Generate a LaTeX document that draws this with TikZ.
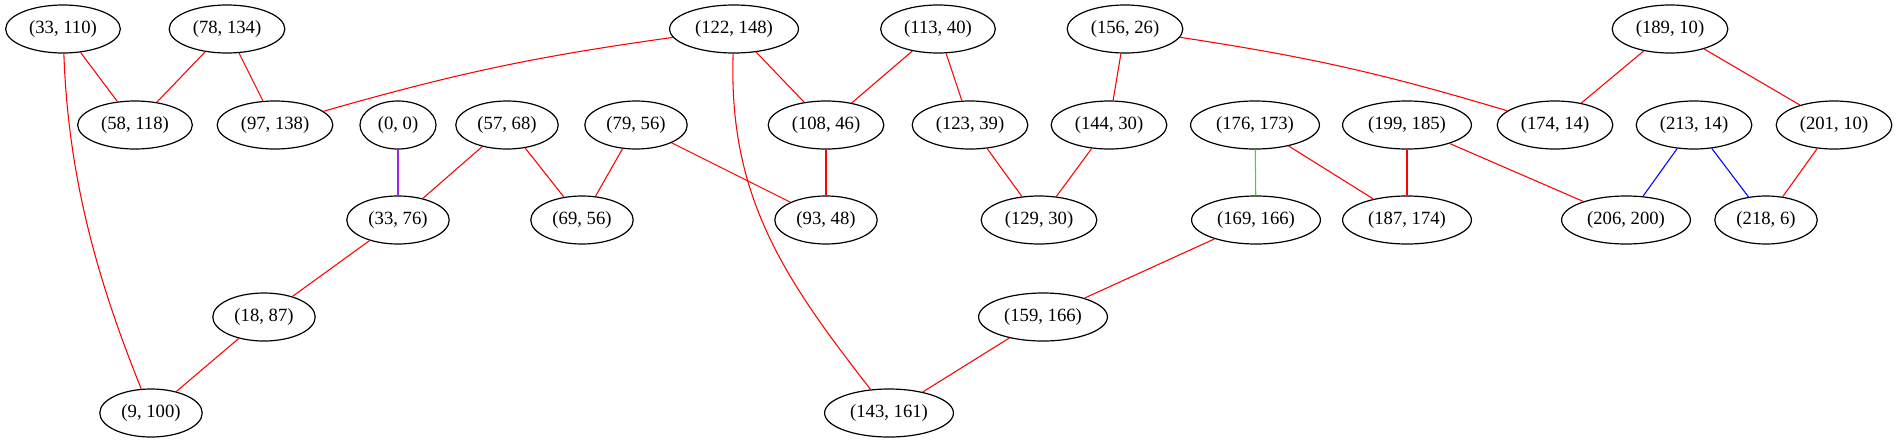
\documentclass[tikz,border=0pt]{standalone}
\usepackage{fontspec}
\setmainfont{Liberation Serif}
\usetikzlibrary{shapes.geometric}
\definecolor{gvred}{HTML}{FF0000}
\definecolor{gvpurple}{HTML}{A020F0}
\definecolor{gvgreen}{HTML}{00FF00}
\definecolor{gvblue}{HTML}{0000FF}
\tikzset{
  vtx/.style={ellipse, draw=black, line width=0.9pt, font=\fontsize{14}{16}\selectfont, minimum width=54pt, minimum height=36pt, inner xsep=5pt, inner ysep=0pt},
  edg/.style={draw=gvred, line width=0.8pt},
}
\begin{document}
\begin{tikzpicture}[x=0.75pt,y=-0.75pt]
  \useasboundingbox (0,0) rectangle (1897,443);
  % nodes, one row after the other
  \foreach \u/\v/\px/\py in {33/110/63/29,78/134/227/29,122/148/734/29,113/40/938/29,156/26/1125/29,189/10/1670/29,
      58/118/135/125,97/138/275/125,0/0/398/125,57/68/507/125,79/56/636/125,108/46/826/125,123/39/970/125,144/30/1109/125,
      176/173/1255/125,199/185/1407/125,174/14/1555/125,213/14/1694/125,201/10/1834/125,
      33/76/398/220,69/56/582/220,93/48/826/220,129/30/1039/220,169/166/1256/220,187/174/1407/220,206/200/1626/220,218/6/1766/220,
      18/87/264/317,159/166/1043/317,9/100/151/413,143/161/889/413}
    { \node[vtx] (n\u-\v) at (\px,\py) {(\u, \v)}; }
  % straight red edges
  \foreach \a/\b in {33-110/58-118,78-134/58-118,78-134/97-138,122-148/108-46,113-40/108-46,113-40/123-39,
      156-26/144-30,189-10/174-14,189-10/201-10,57-68/33-76,57-68/69-56,79-56/69-56,79-56/93-48,108-46/93-48,
      123-39/129-30,144-30/129-30,176-173/187-174,199-185/187-174,199-185/206-200,201-10/218-6,
      33-76/18-87,18-87/9-100,169-166/159-166,159-166/143-161}
    { \draw[edg] (n\a) -- (n\b); }
  % curved ones
  \draw[edg] (n33-110) to[out=-88,in=112,looseness=0.9] (n9-100);
  \draw[edg] (n122-148) to[bend right=4] (n97-138);
  \draw[edg] (n122-148) to[out=-92,in=128] (n143-161);
  \draw[edg] (n156-26) to[bend left=4] (n174-14);
  % coloured edges
  \draw[edg, draw=gvpurple] (n0-0) -- (n33-76);
  \draw[edg, draw=gvgreen] (n176-173) -- (n169-166);
  \draw[edg, draw=gvblue] (n213-14) -- (n206-200);
  \draw[edg, draw=gvblue] (n213-14) -- (n218-6);
\end{tikzpicture}
\end{document}
